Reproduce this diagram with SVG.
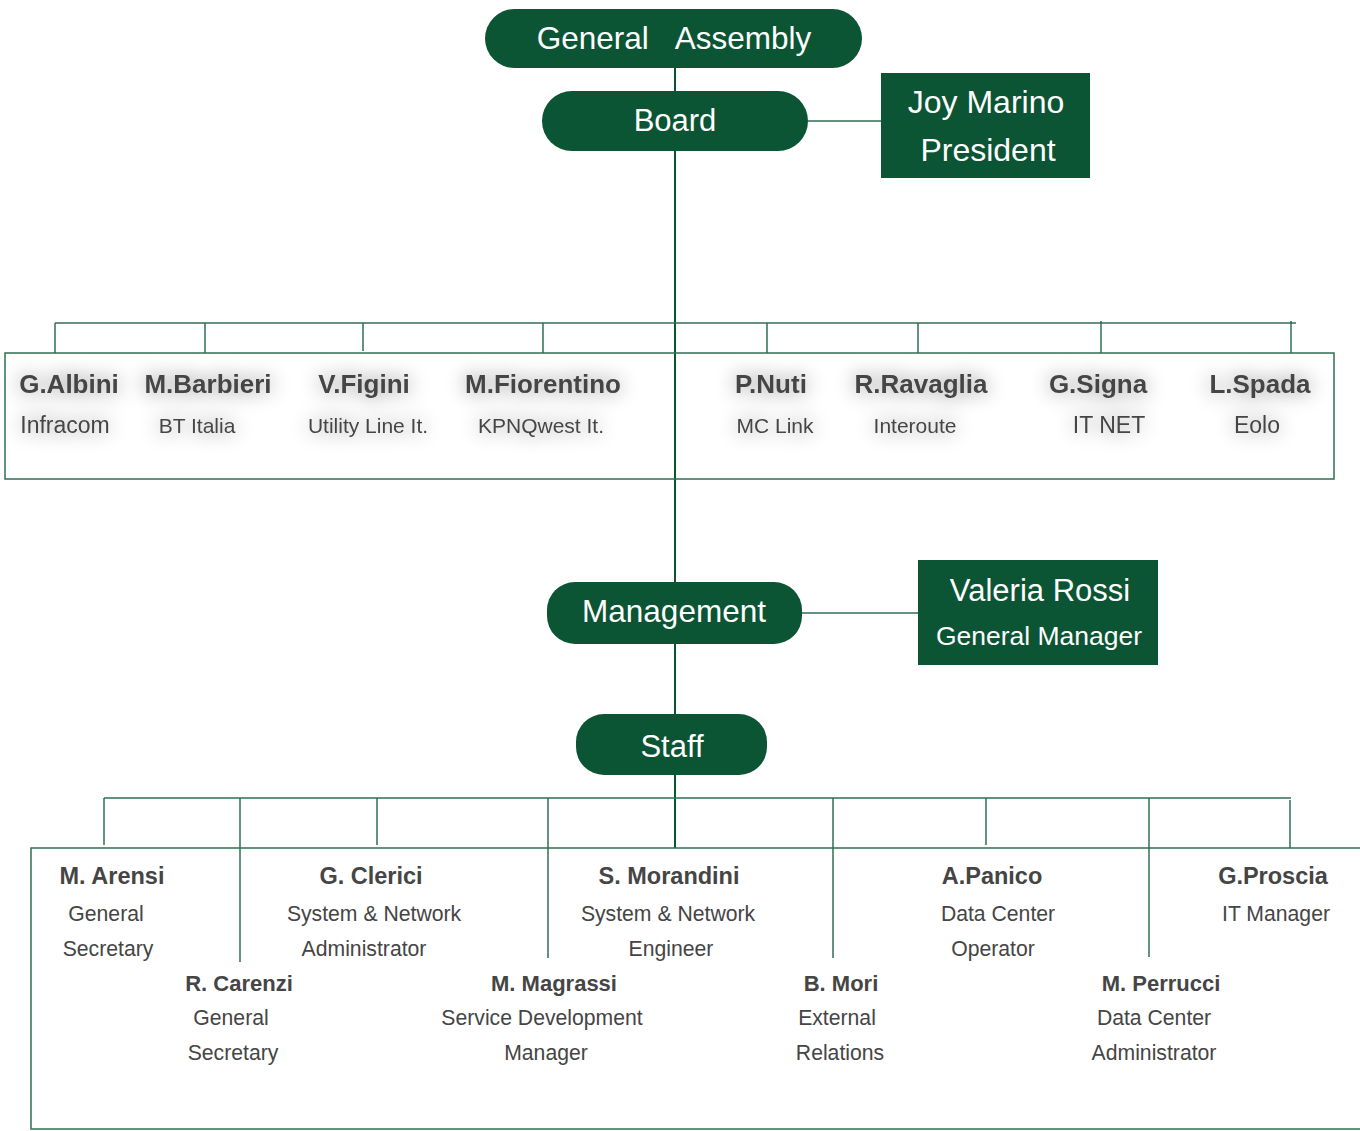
<svg xmlns="http://www.w3.org/2000/svg" width="1360" height="1131" viewBox="0 0 1360 1131">
<defs>
<style>
.pill{fill:#0b5434;}
.box{fill:#0b5434;}
.wt{fill:#ffffff;font-family:"Liberation Sans",Arial,sans-serif;font-size:31px;text-anchor:middle;}
.ln{stroke:#2f6f51;stroke-width:1.5;fill:none;}
.trunk{stroke:#0b5434;stroke-width:2;fill:none;}
.nm{fill:#454545;font-family:"Liberation Sans",Arial,sans-serif;font-weight:bold;font-size:26px;text-anchor:middle;}
.co{fill:#454545;font-family:"Liberation Sans",Arial,sans-serif;font-size:21px;text-anchor:middle;}
.sn{fill:#454545;font-family:"Liberation Sans",Arial,sans-serif;font-weight:bold;font-size:23.5px;text-anchor:middle;}
.sn2{fill:#454545;font-family:"Liberation Sans",Arial,sans-serif;font-weight:bold;font-size:22px;text-anchor:middle;}
.sd{fill:#454545;font-family:"Liberation Sans",Arial,sans-serif;font-size:21.2px;text-anchor:middle;}
</style>
<filter id="glow" x="-50%" y="-100%" width="200%" height="300%">
<feGaussianBlur in="SourceAlpha" stdDeviation="10" result="b"/>
<feComponentTransfer in="b" result="s"><feFuncA type="linear" slope="0.5"/></feComponentTransfer>
<feMerge><feMergeNode in="s"/><feMergeNode in="SourceGraphic"/></feMerge>
</filter>
</defs>
<rect width="1360" height="1131" fill="#ffffff"/>

<g id="connectors">
<line class="trunk" x1="675" y1="68" x2="675" y2="91"/>
<line class="trunk" x1="675" y1="151" x2="675" y2="582"/>
<line class="trunk" x1="675" y1="644" x2="675" y2="714" stroke="#16301f"/>
<line class="trunk" x1="675" y1="775" x2="675" y2="848" stroke="#16301f"/>
<line class="ln" x1="808" y1="121" x2="881" y2="121"/>
<line class="ln" x1="802" y1="613" x2="918" y2="613"/>
<line class="ln" x1="55" y1="323" x2="1296" y2="323"/>
<line class="ln" x1="55" y1="323" x2="55" y2="353"/>
<line class="ln" x1="205" y1="323" x2="205" y2="353"/>
<line class="ln" x1="363" y1="323" x2="363" y2="351"/>
<line class="ln" x1="543" y1="323" x2="543" y2="353"/>
<line class="ln" x1="767" y1="323" x2="767" y2="353"/>
<line class="ln" x1="918" y1="323" x2="918" y2="353"/>
<line class="ln" x1="1101" y1="321" x2="1101" y2="353"/>
<line class="ln" x1="1291" y1="321" x2="1291" y2="353"/>
<line class="ln" x1="104" y1="798" x2="1291" y2="798"/>
<line class="ln" x1="104" y1="798" x2="104" y2="845"/>
<line class="ln" x1="240" y1="798" x2="240" y2="962"/>
<line class="ln" x1="377" y1="798" x2="377" y2="845"/>
<line class="ln" x1="548" y1="798" x2="548" y2="958"/>
<line class="ln" x1="833" y1="798" x2="833" y2="958"/>
<line class="ln" x1="986" y1="798" x2="986" y2="845"/>
<line class="ln" x1="1149" y1="798" x2="1149" y2="957"/>
<line class="ln" x1="1290" y1="800" x2="1290" y2="848"/>
</g>

<g id="general-assembly">
<rect class="pill" x="485" y="9" width="377" height="59" rx="29.5"/>
<text class="wt" x="674" y="49" style="font-size:31.5px"><tspan>General</tspan><tspan dx="26">Assembly</tspan></text>
</g>
<g id="board">
<rect class="pill" x="542" y="91" width="266" height="60" rx="30"/>
<text class="wt" x="675" y="131">Board</text>
</g>
<g id="president">
<rect class="box" x="881" y="73" width="209" height="105"/>
<text class="wt" x="986" y="113" style="font-size:32px">Joy Marino</text>
<text class="wt" x="988" y="161" style="font-size:32px">President</text>
</g>

<g id="board-members">
<rect x="5" y="353" width="1329" height="126" fill="none" stroke="#2f6f51" stroke-width="1.5"/>
<g filter="url(#glow)">
<text class="nm" x="69" y="393">G.Albini</text>
<text class="co" x="65" y="433" style="font-size:23px">Infracom</text>
<text class="nm" x="208" y="393">M.Barbieri</text>
<text class="co" x="197" y="433">BT Italia</text>
<text class="nm" x="364" y="393">V.Figini</text>
<text class="co" x="368" y="433">Utility Line It.</text>
<text class="nm" x="543" y="393">M.Fiorentino</text>
<text class="co" x="541" y="433">KPNQwest It.</text>
<text class="nm" x="771" y="393">P.Nuti</text>
<text class="co" x="775" y="433">MC Link</text>
<text class="nm" x="921" y="393">R.Ravaglia</text>
<text class="co" x="915" y="433">Interoute</text>
<text class="nm" x="1098" y="393">G.Signa</text>
<text class="co" x="1109" y="433" style="font-size:23px">IT NET</text>
<text class="nm" x="1260" y="393">L.Spada</text>
<text class="co" x="1257" y="433" style="font-size:23px">Eolo</text>
</g>
</g>

<g id="management">
<rect class="pill" x="547" y="582" width="255" height="62" rx="28"/>
<text class="wt" x="674" y="622" style="font-size:31.5px">Management</text>
</g>
<g id="general-manager">
<rect class="box" x="918" y="560" width="240" height="105"/>
<text class="wt" x="1040" y="601">Valeria Rossi</text>
<text class="wt" x="1039" y="645" style="font-size:26.5px">General Manager</text>
</g>
<g id="staff">
<rect class="pill" x="576" y="714" width="191" height="61" rx="28"/>
<text class="wt" x="672" y="757">Staff</text>
</g>

<g id="staff-members">
<rect x="31" y="848" width="1345" height="281" fill="none" stroke="#2f6f51" stroke-width="1.5"/>
<text class="sn" x="112" y="884">M. Arensi</text>
<text class="sd" x="106" y="921">General</text>
<text class="sd" x="108" y="956">Secretary</text>
<text class="sn" x="371" y="884">G. Clerici</text>
<text class="sd" x="374" y="921">System &amp; Network</text>
<text class="sd" x="364" y="956">Administrator</text>
<text class="sn" x="669" y="884">S. Morandini</text>
<text class="sd" x="668" y="921">System &amp; Network</text>
<text class="sd" x="671" y="956">Engineer</text>
<text class="sn" x="992" y="884">A.Panico</text>
<text class="sd" x="998" y="921">Data Center</text>
<text class="sd" x="993" y="956">Operator</text>
<text class="sn" x="1273" y="884">G.Proscia</text>
<text class="sd" x="1276" y="921">IT Manager</text>
<text class="sn2" x="239" y="991">R. Carenzi</text>
<text class="sd" x="231" y="1025">General</text>
<text class="sd" x="233" y="1060">Secretary</text>
<text class="sn2" x="554" y="991">M. Magrassi</text>
<text class="sd" x="542" y="1025">Service Development</text>
<text class="sd" x="546" y="1060">Manager</text>
<text class="sn2" x="841" y="991">B. Mori</text>
<text class="sd" x="837" y="1025">External</text>
<text class="sd" x="840" y="1060">Relations</text>
<text class="sn2" x="1161" y="991">M. Perrucci</text>
<text class="sd" x="1154" y="1025">Data Center</text>
<text class="sd" x="1154" y="1060">Administrator</text>
</g>
</svg>
